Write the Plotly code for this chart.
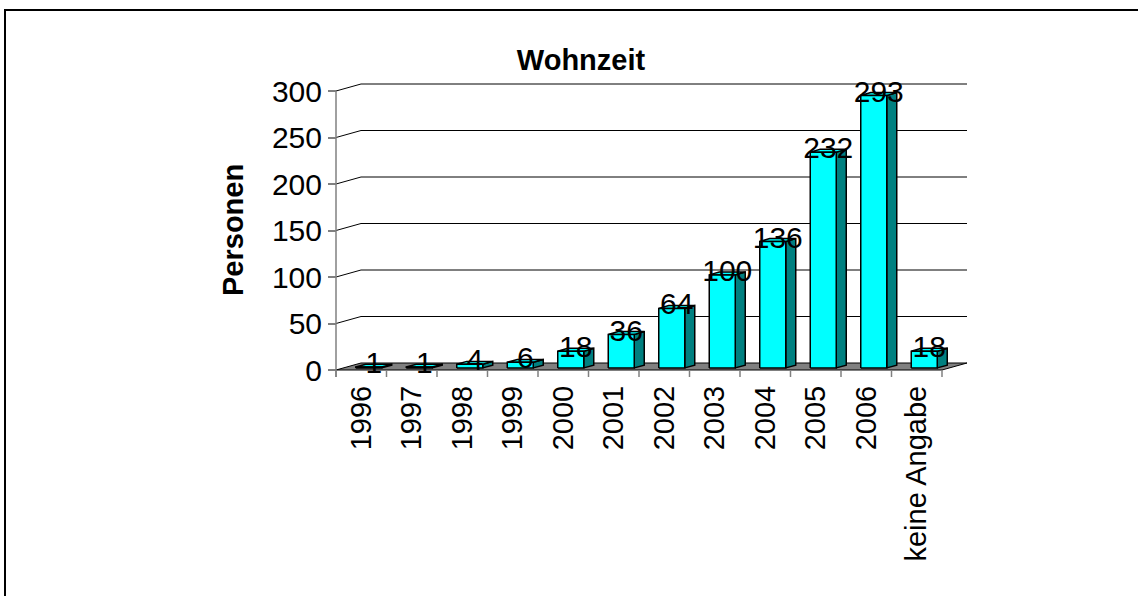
import plotly.graph_objects as go

# ---- data ----
categories = ["1996", "1997", "1998", "1999", "2000", "2001", "2002",
              "2003", "2004", "2005", "2006", "keine Angabe"]
values = [1, 1, 4, 6, 18, 36, 64, 100, 136, 232, 293, 18]
y_ticks = [0, 50, 100, 150, 200, 250, 300]
title_text = "Wohnzeit"
y_title = "Personen"

# ---- geometry (pixel calibration) ----
W, H = 1138, 596
X0PX = 336.0          # front y-axis pixel x
CATPX = 50.5          # pixels per category
Y0PX = 370.0          # pixel y of value 0 (front)
PXPERVAL = 279.0 / 300.0
DEPTH_U = 25.0 / CATPX          # depth shift in category units
DEPTH_V = 7.0 / PXPERVAL        # depth shift in value units
BAR_W = 26.0 / CATPX
F0, F1 = 0.3, 0.7               # bar front / back depth fractions
n = len(categories)

xr = [-X0PX / CATPX, (W - X0PX) / CATPX]
yr = [(Y0PX - H) / PXPERVAL, Y0PX / PXPERVAL]

FONT = "Arial, Liberation Sans, sans-serif"
CYAN = "#00FFFF"
TEAL = "#008080"
GRAY = "#808080"

fig = go.Figure()

def poly(xs, ys, fill, line="black", lw=1.5):
    fig.add_trace(go.Scatter(x=xs + [xs[0]], y=ys + [ys[0]], mode="lines",
                             fill="toself", fillcolor=fill,
                             line=dict(color=line, width=lw),
                             hoverinfo="skip", showlegend=False))

def seg(xs, ys, color="black", lw=1):
    fig.add_trace(go.Scatter(x=xs, y=ys, mode="lines",
                             line=dict(color=color, width=lw),
                             hoverinfo="skip", showlegend=False))

# back wall gridlines + side wall diagonals
for t in y_ticks:
    if t == 0:
        continue
    seg([0, DEPTH_U, n + DEPTH_U], [t, t + DEPTH_V, t + DEPTH_V], "black", 1)

# floor
poly([0, n, n + DEPTH_U, DEPTH_U], [0, 0, DEPTH_V, DEPTH_V], GRAY, "black", 1)

# front y-axis line
seg([0, 0], [-DEPTH_V, y_ticks[-1]], GRAY, 1.5)

# category tick marks
for i in range(n + 1):
    seg([i, i], [0, -DEPTH_V], GRAY, 1.5)

# bars
for i, v in enumerate(values):
    xl = i + 0.5 - BAR_W / 2 + F0 * DEPTH_U
    xrr = xl + BAR_W
    yb = F0 * DEPTH_V
    du = (F1 - F0) * DEPTH_U
    dv = (F1 - F0) * DEPTH_V
    # side
    poly([xrr, xrr + du, xrr + du, xrr], [yb, yb + dv, v + yb + dv, v + yb], TEAL)
    # top
    poly([xl, xrr, xrr + du, xl + du], [v + yb, v + yb, v + yb + dv, v + yb + dv], CYAN)
    # front
    poly([xl, xrr, xrr, xl], [yb, yb, v + yb, v + yb], CYAN)

# value labels
fig.add_trace(go.Scatter(
    x=[i + 0.5 + 0.5 * DEPTH_U for i in range(n)],
    y=[v + 0.5 * DEPTH_V for v in values],
    mode="text", text=[str(v) for v in values],
    textposition="middle center",
    textfont=dict(family=FONT, size=30, color="black"),
    cliponaxis=False, hoverinfo="skip", showlegend=False))

fig.update_layout(
    width=W, height=H,
    margin=dict(l=0, r=0, t=0, b=0, pad=0),
    paper_bgcolor="white", plot_bgcolor="white",
    showlegend=False,
    title=dict(text=f"<b>{title_text}</b>", x=581 / W, xanchor="center",
               y=1 - 60 / H, yanchor="middle",
               font=dict(family=FONT, size=29, color="black")),
    xaxis=dict(range=xr, domain=[0, 1], anchor="free",
               position=(H - Y0PX) / H,
               tickmode="array",
               tickvals=[i + 0.5 for i in range(n)], ticktext=categories,
               tickangle=-90, ticks="", showline=False, showgrid=False,
               zeroline=False, ticklabelstandoff=9,
               tickfont=dict(family=FONT, size=29, color="black"),
               fixedrange=True),
    yaxis=dict(range=yr, domain=[0, 1], anchor="free",
               position=X0PX / W,
               tickmode="array", tickvals=y_ticks,
               ticks="outside", ticklen=8, tickcolor=GRAY, tickwidth=1.5,
               showline=False, showgrid=False, zeroline=False,
               tickfont=dict(family=FONT, size=30, color="black"),
               fixedrange=True),
    annotations=[dict(text=f"<b>{y_title}</b>", textangle=-90,
                      xref="paper", yref="paper",
                      x=233 / W, y=1 - 230 / H,
                      xanchor="center", yanchor="middle", showarrow=False,
                      font=dict(family=FONT, size=29, color="black"))],
    shapes=[dict(type="rect", xref="paper", yref="paper",
                 x0=5 / W, y0=-0.05, x1=1.05, y1=1 - 10 / H,
                 line=dict(color="black", width=2), fillcolor="rgba(0,0,0,0)",
                 layer="above")],
)

fig.write_html("out.html", config={"displayModeBar": False},
               post_script="document.body.style.margin='0';"
                           "document.body.style.overflow='hidden';")
